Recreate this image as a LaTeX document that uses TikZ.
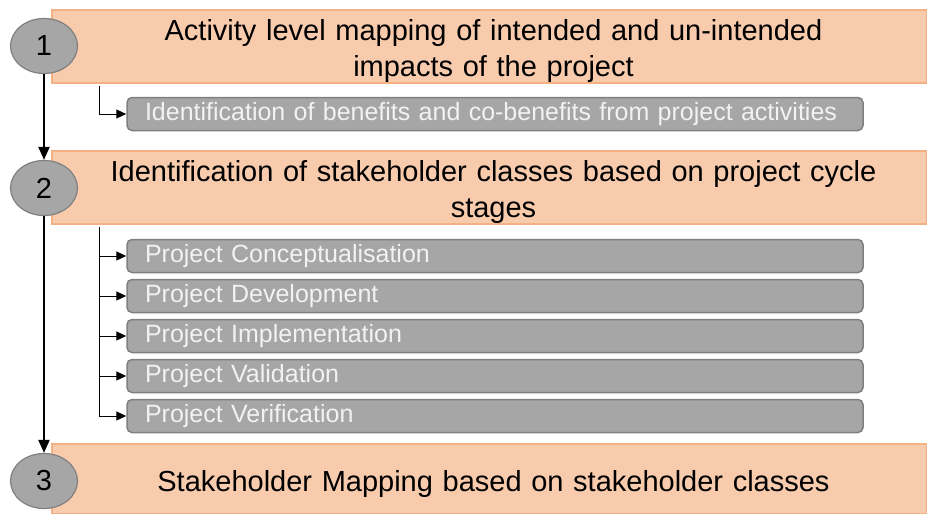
\documentclass[tikz,border=0pt]{standalone}
\usepackage{fontspec}
\setmainfont{Liberation Sans}
\usepackage{xcolor}
\usetikzlibrary{shapes.geometric}
\usetikzlibrary{arrows.meta}

\definecolor{headfill}{HTML}{F8CBAD}
\definecolor{headline}{HTML}{F4B183}
\definecolor{subfill}{HTML}{A6A6A6}
\definecolor{subline}{HTML}{808080}
\definecolor{subtext}{HTML}{F2F2F2}

\tikzset{
headbox/.style={draw=headline, fill=headfill, line width=1.5pt, minimum width=875pt,
  minimum height=73pt, inner sep=0pt, align=center, text width=860pt,
  text height=31pt,
  font=\fontsize{29}{36}\selectfont},
numbox/.style={ellipse, draw=subline, fill=subfill, line width=1.2pt, minimum width=67pt,
  minimum height=55pt, inner sep=0pt, font=\fontsize{29}{35}\selectfont},
subbox/.style={draw=subline, fill=subfill, line width=1.5pt, rounded corners=5pt,
  minimum height=33pt, inner sep=0pt, text width=736pt, align=left,
  execute at begin node=\hspace*{18pt},
  text=subtext, font=\fontsize{25}{30}\selectfont},
mainarrow/.style={line width=2pt, -{Triangle[length=13pt, width=11pt]}},
subarrow/.style={line width=1pt, -{Triangle[length=10pt, width=9pt]}}
}

\begin{document}
\begin{tikzpicture}[x=1pt, y=-1pt]

\useasboundingbox (0,0) rectangle (927,514);


\node[headbox] (head1) at (489.5,46.5)
{\hspace*{8pt}Activity level mapping of intended and un-intended\\ \hspace*{8pt}impacts of the project};

\node[headbox] (head2) at (489.5,187.5)
{\hspace*{8pt}Identification of stakeholder classes based on project cycle\\ \hspace*{8pt}stages};

\node[headbox, minimum height=70pt] (head3) at (489.5,479)
{\hspace*{8pt}Stakeholder Mapping based on stakeholder classes};


\node[numbox] (num1) at (44,46) {1};
\node[numbox] (num2) at (44,188) {2};
\node[numbox] (num3) at (44,481) {3};

\draw[mainarrow] (num1) -- (num2);
\draw[mainarrow] (num2) -- (num3);



\node[subbox] (sub1) at (495,114)
{Identification of benefits and co-benefits from project activities};

\coordinate (br1) at (99,86);
\draw[subarrow] (br1) |- (sub1.west);


\foreach \name [count=\i] in {Conceptualisation,Development,Implementation,Validation,Verification}
\node[subbox] (stg\i) at (495,216+40*\i) {Project \name};

\coordinate (br2) at (99,227);
\foreach \i in {1,...,5}
\draw[subarrow] (br2) |- (stg\i.west);

\end{tikzpicture}
\end{document}
